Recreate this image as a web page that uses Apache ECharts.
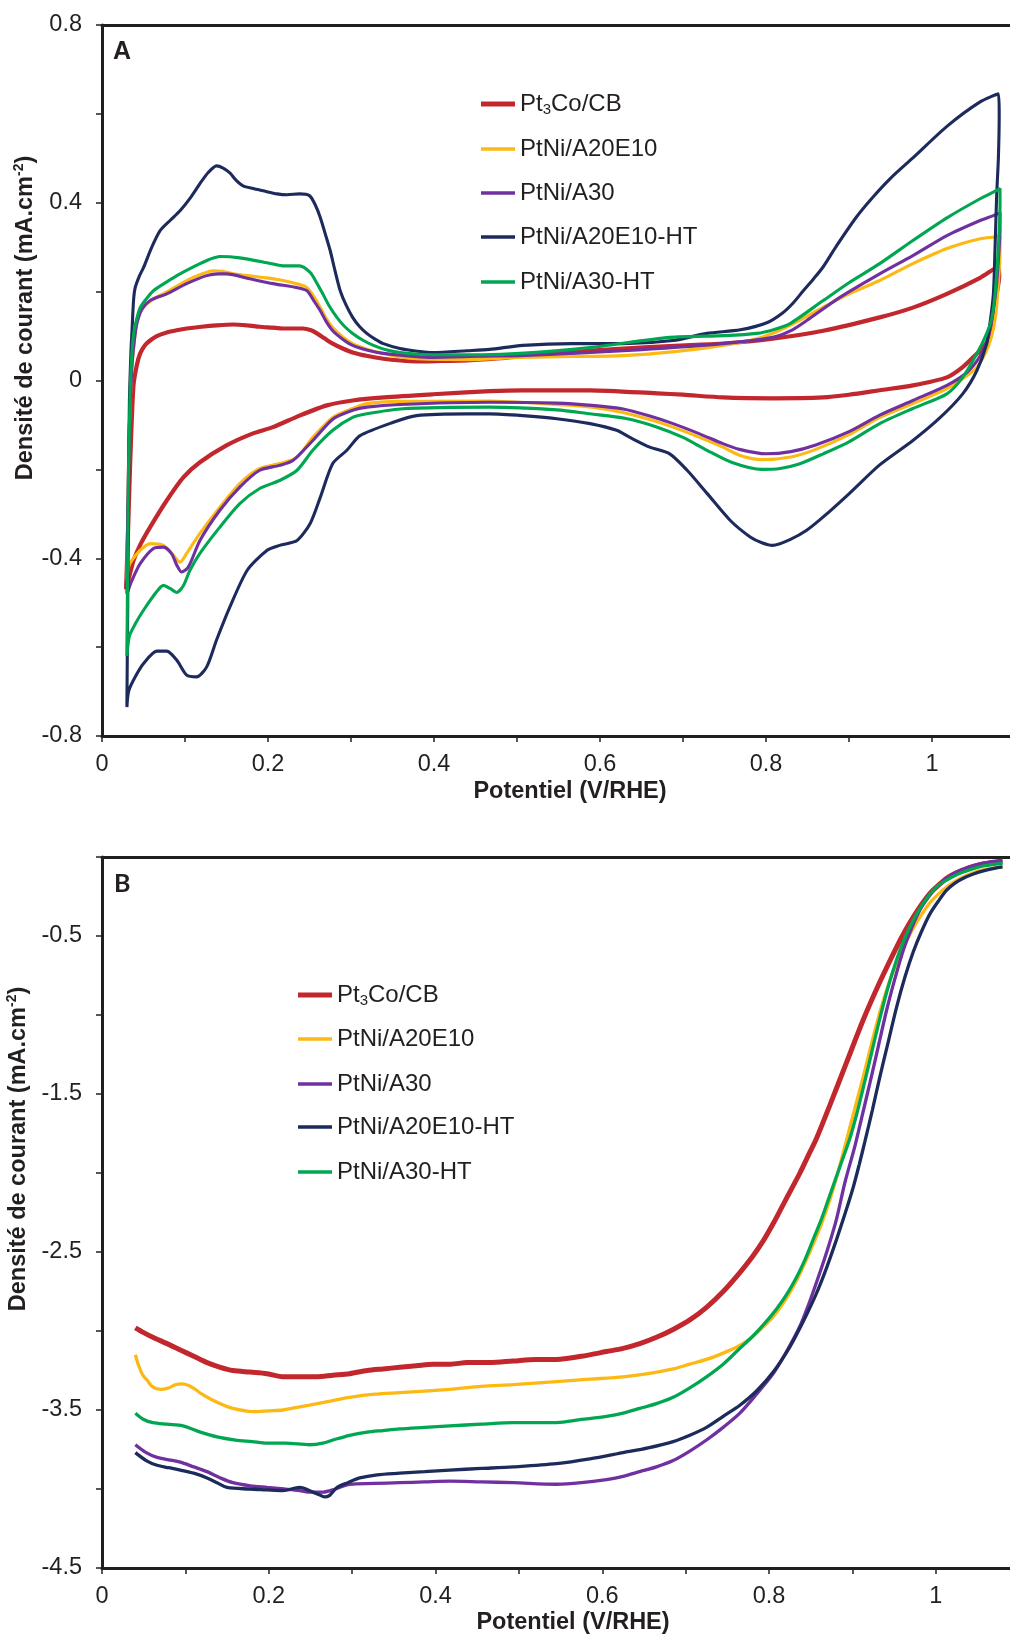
<!DOCTYPE html>
<html>
<head>
<meta charset="utf-8">
<script src="https://cdn.jsdelivr.net/npm/echarts@6/dist/echarts.min.js"></script>
<style>
  html, body { margin: 0; padding: 0; background: #ffffff; }
  #chart { width: 1010px; height: 1636px; }
</style>
</head>
<body>
<div id="chart"></div>
<script>
// ---------- DATA ----------
const seriesNames = ['Pt3Co/CB', 'PtNi/A20E10', 'PtNi/A30', 'PtNi/A20E10-HT', 'PtNi/A30-HT'];

// Panel A : cyclic voltammograms  [potential V/RHE, current density mA.cm-2]
const cvPt3Co = [[0.029,-0.47],[0.031,-0.36],[0.033,-0.24],[0.035,-0.13],[0.038,-0.01],[0.042,0.035],[0.046,0.061],[0.052,0.080],[0.058,0.090],[0.066,0.100],[0.078,0.108],[0.090,0.113],[0.102,0.117],[0.120,0.121],[0.138,0.124],[0.158,0.126],[0.175,0.124],[0.190,0.121],[0.205,0.119],[0.218,0.117],[0.242,0.117],[0.252,0.113],[0.259,0.106],[0.268,0.095],[0.278,0.083],[0.290,0.072],[0.302,0.063],[0.320,0.055],[0.339,0.049],[0.360,0.045],[0.379,0.043],[0.410,0.044],[0.440,0.045],[0.480,0.050],[0.504,0.055],[0.560,0.063],[0.628,0.072],[0.690,0.078],[0.748,0.083],[0.808,0.094],[0.869,0.112],[0.937,0.142],[0.977,0.164],[1.018,0.195],[1.058,0.231],[1.080,0.256],
  [1.081,0.235],[1.078,0.195],[1.074,0.140],[1.070,0.097],[1.062,0.075],[1.054,0.060],[1.037,0.030],[1.018,0.007],[0.977,-0.011],[0.937,-0.022],[0.900,-0.032],[0.869,-0.038],[0.808,-0.040],[0.748,-0.038],[0.700,-0.032],[0.669,-0.029],[0.588,-0.022],[0.507,-0.022],[0.467,-0.024],[0.399,-0.031],[0.340,-0.038],[0.302,-0.045],[0.271,-0.056],[0.238,-0.079],[0.206,-0.105],[0.182,-0.119],[0.150,-0.146],[0.118,-0.184],[0.098,-0.218],[0.078,-0.270],[0.058,-0.330],[0.046,-0.370],[0.038,-0.405],[0.033,-0.440],[0.029,-0.470]];
const cvA20E10 = [[0.030,-0.45],[0.031,-0.30],[0.033,-0.10],[0.036,0.03],[0.039,0.09],[0.042,0.135],[0.047,0.160],[0.054,0.172],[0.064,0.186],[0.074,0.195],[0.088,0.210],[0.102,0.225],[0.118,0.238],[0.134,0.247],[0.145,0.246],[0.158,0.240],[0.180,0.235],[0.199,0.231],[0.215,0.226],[0.230,0.220],[0.240,0.215],[0.247,0.209],[0.255,0.190],[0.263,0.164],[0.270,0.140],[0.278,0.119],[0.290,0.098],[0.302,0.083],[0.320,0.070],[0.339,0.061],[0.360,0.053],[0.379,0.049],[0.440,0.047],[0.504,0.052],[0.567,0.054],[0.628,0.056],[0.690,0.065],[0.748,0.079],[0.780,0.090],[0.808,0.106],[0.840,0.135],[0.869,0.165],[0.900,0.195],[0.937,0.225],[0.977,0.263],[1.018,0.297],[1.058,0.319],[1.076,0.323],[1.082,0.325],
  [1.082,0.29],[1.080,0.22],[1.077,0.15],[1.072,0.10],[1.064,0.06],[1.054,0.03],[1.040,0.008],[1.018,-0.018],[0.977,-0.052],[0.937,-0.083],[0.900,-0.122],[0.860,-0.155],[0.830,-0.172],[0.795,-0.178],[0.768,-0.168],[0.748,-0.150],[0.720,-0.128],[0.688,-0.105],[0.660,-0.088],[0.628,-0.072],[0.590,-0.060],[0.548,-0.054],[0.467,-0.046],[0.359,-0.047],[0.319,-0.052],[0.302,-0.063],[0.278,-0.083],[0.254,-0.128],[0.235,-0.173],[0.214,-0.187],[0.190,-0.198],[0.166,-0.232],[0.142,-0.285],[0.118,-0.344],[0.102,-0.389],[0.094,-0.409],[0.084,-0.389],[0.074,-0.371],[0.058,-0.367],[0.046,-0.382],[0.036,-0.405],[0.032,-0.420],[0.030,-0.450]];
const cvA30 = [[0.030,-0.48],[0.031,-0.30],[0.033,-0.10],[0.036,0.03],[0.039,0.09],[0.042,0.128],[0.048,0.160],[0.058,0.180],[0.078,0.195],[0.102,0.218],[0.126,0.236],[0.140,0.240],[0.150,0.240],[0.178,0.229],[0.206,0.218],[0.235,0.209],[0.247,0.202],[0.255,0.180],[0.263,0.157],[0.270,0.133],[0.278,0.112],[0.290,0.093],[0.302,0.079],[0.320,0.068],[0.339,0.061],[0.399,0.052],[0.467,0.055],[0.504,0.056],[0.628,0.067],[0.748,0.083],[0.808,0.097],[0.830,0.112],[0.849,0.135],[0.889,0.187],[0.937,0.240],[0.977,0.281],[1.018,0.326],[1.058,0.360],[1.074,0.371],[1.082,0.378],
  [1.082,0.34],[1.081,0.30],[1.078,0.22],[1.074,0.16],[1.068,0.10],[1.058,0.055],[1.042,0.018],[1.018,-0.011],[0.977,-0.045],[0.937,-0.078],[0.900,-0.115],[0.860,-0.145],[0.830,-0.160],[0.800,-0.165],[0.768,-0.155],[0.748,-0.142],[0.720,-0.120],[0.688,-0.097],[0.660,-0.080],[0.628,-0.064],[0.590,-0.056],[0.548,-0.051],[0.467,-0.049],[0.359,-0.054],[0.319,-0.060],[0.302,-0.067],[0.278,-0.087],[0.254,-0.135],[0.230,-0.180],[0.214,-0.191],[0.190,-0.202],[0.166,-0.240],[0.142,-0.292],[0.118,-0.360],[0.104,-0.420],[0.096,-0.431],[0.090,-0.415],[0.084,-0.390],[0.074,-0.375],[0.062,-0.378],[0.046,-0.412],[0.036,-0.450],[0.032,-0.470],[0.030,-0.480]];
const cvA20E10HT = [[0.030,-0.73],[0.031,-0.50],[0.032,-0.25],[0.033,-0.05],[0.035,0.07],[0.036,0.106],[0.038,0.180],[0.040,0.209],[0.045,0.235],[0.050,0.254],[0.060,0.300],[0.070,0.337],[0.082,0.360],[0.094,0.382],[0.106,0.410],[0.118,0.443],[0.128,0.468],[0.138,0.483],[0.146,0.478],[0.154,0.467],[0.162,0.450],[0.170,0.438],[0.182,0.432],[0.194,0.427],[0.211,0.420],[0.223,0.418],[0.238,0.420],[0.250,0.416],[0.257,0.395],[0.263,0.367],[0.269,0.330],[0.275,0.292],[0.281,0.245],[0.287,0.202],[0.294,0.170],[0.302,0.142],[0.310,0.122],[0.319,0.106],[0.329,0.093],[0.339,0.083],[0.359,0.072],[0.380,0.066],[0.399,0.063],[0.440,0.067],[0.467,0.070],[0.507,0.079],[0.567,0.083],[0.628,0.083],[0.688,0.090],[0.729,0.106],[0.769,0.114],[0.801,0.130],[0.820,0.152],[0.833,0.175],[0.845,0.202],[0.857,0.228],[0.869,0.256],[0.885,0.303],[0.909,0.368],[0.929,0.413],[0.950,0.455],[0.977,0.501],[1.018,0.572],[1.058,0.627],[1.080,0.645],
  [1.081,0.60],[1.080,0.50],[1.078,0.42],[1.076,0.30],[1.074,0.195],[1.070,0.130],[1.066,0.083],[1.054,0.022],[1.037,-0.030],[1.010,-0.083],[0.977,-0.135],[0.937,-0.190],[0.900,-0.255],[0.869,-0.307],[0.849,-0.337],[0.830,-0.357],[0.808,-0.371],[0.795,-0.365],[0.781,-0.352],[0.757,-0.315],[0.729,-0.254],[0.705,-0.202],[0.684,-0.165],[0.660,-0.150],[0.636,-0.128],[0.620,-0.112],[0.588,-0.097],[0.548,-0.086],[0.507,-0.079],[0.467,-0.075],[0.440,-0.075],[0.379,-0.079],[0.351,-0.094],[0.311,-0.124],[0.295,-0.157],[0.278,-0.187],[0.263,-0.263],[0.251,-0.321],[0.235,-0.360],[0.214,-0.371],[0.199,-0.382],[0.175,-0.427],[0.154,-0.510],[0.138,-0.584],[0.126,-0.645],[0.114,-0.667],[0.102,-0.663],[0.090,-0.629],[0.078,-0.609],[0.066,-0.609],[0.050,-0.637],[0.038,-0.674],[0.032,-0.700],[0.030,-0.735]];
const cvA30HT = [[0.030,-0.62],[0.031,-0.40],[0.032,-0.20],[0.034,-0.02],[0.036,0.06],[0.038,0.105],[0.042,0.140],[0.046,0.164],[0.054,0.185],[0.062,0.202],[0.078,0.222],[0.094,0.240],[0.118,0.263],[0.130,0.273],[0.142,0.279],[0.166,0.276],[0.199,0.265],[0.218,0.258],[0.238,0.258],[0.251,0.243],[0.258,0.222],[0.266,0.195],[0.274,0.167],[0.283,0.142],[0.292,0.122],[0.302,0.106],[0.315,0.090],[0.327,0.079],[0.342,0.069],[0.359,0.063],[0.399,0.058],[0.459,0.058],[0.504,0.061],[0.588,0.074],[0.684,0.097],[0.750,0.101],[0.789,0.106],[0.810,0.115],[0.829,0.128],[0.869,0.180],[0.900,0.220],[0.937,0.263],[0.977,0.315],[1.018,0.366],[1.058,0.409],[1.078,0.428],[1.082,0.432],
  [1.082,0.40],[1.080,0.30],[1.076,0.195],[1.072,0.140],[1.066,0.106],[1.054,0.060],[1.037,0.007],[1.018,-0.030],[0.977,-0.063],[0.937,-0.097],[0.900,-0.138],[0.869,-0.165],[0.840,-0.188],[0.817,-0.198],[0.795,-0.200],[0.760,-0.185],[0.729,-0.157],[0.700,-0.128],[0.669,-0.105],[0.630,-0.085],[0.588,-0.075],[0.548,-0.066],[0.467,-0.060],[0.359,-0.064],[0.319,-0.075],[0.302,-0.083],[0.278,-0.112],[0.254,-0.157],[0.235,-0.202],[0.214,-0.225],[0.190,-0.243],[0.166,-0.277],[0.142,-0.330],[0.118,-0.389],[0.106,-0.427],[0.098,-0.462],[0.090,-0.477],[0.082,-0.468],[0.074,-0.461],[0.066,-0.475],[0.050,-0.517],[0.040,-0.548],[0.033,-0.575],[0.030,-0.620]];

// Panel B : ORR polarisation curves  [potential V/RHE, current density mA.cm-2]
const orrPt3Co = [[0.040,-2.98],[0.050,-3.01],[0.061,-3.04],[0.078,-3.08],[0.094,-3.12],[0.110,-3.16],[0.126,-3.20],[0.142,-3.23],[0.157,-3.25],[0.178,-3.26],[0.198,-3.27],[0.218,-3.29],[0.237,-3.29],[0.257,-3.29],[0.277,-3.28],[0.297,-3.27],[0.318,-3.25],[0.337,-3.24],[0.357,-3.23],[0.377,-3.22],[0.397,-3.21],[0.418,-3.21],[0.438,-3.20],[0.465,-3.20],[0.493,-3.19],[0.520,-3.18],[0.545,-3.18],[0.575,-3.16],[0.605,-3.13],[0.625,-3.11],[0.645,-3.08],[0.665,-3.04],[0.685,-2.99],[0.705,-2.93],[0.725,-2.85],[0.745,-2.75],[0.765,-2.63],[0.780,-2.53],[0.793,-2.43],[0.805,-2.32],[0.817,-2.20],[0.827,-2.10],[0.837,-2.00],[0.847,-1.89],[0.857,-1.78],[0.873,-1.57],[0.893,-1.30],[0.913,-1.03],[0.933,-0.79],[0.953,-0.57],[0.963,-0.47],[0.973,-0.38],[0.983,-0.30],[0.993,-0.23],[1.003,-0.18],[1.013,-0.135],[1.023,-0.105],[1.033,-0.082],[1.045,-0.060],[1.057,-0.044],[1.070,-0.035],[1.080,-0.030]];
const orrA20E10 = [[0.040,-3.15],[0.044,-3.22],[0.049,-3.28],[0.054,-3.31],[0.060,-3.35],[0.070,-3.37],[0.080,-3.36],[0.088,-3.34],[0.096,-3.335],[0.104,-3.345],[0.112,-3.37],[0.120,-3.40],[0.130,-3.43],[0.142,-3.46],[0.157,-3.49],[0.181,-3.51],[0.200,-3.505],[0.217,-3.50],[0.237,-3.48],[0.258,-3.46],[0.277,-3.44],[0.297,-3.42],[0.327,-3.40],[0.357,-3.39],[0.387,-3.38],[0.417,-3.37],[0.455,-3.35],[0.493,-3.34],[0.545,-3.32],[0.585,-3.305],[0.625,-3.29],[0.655,-3.27],[0.685,-3.24],[0.705,-3.21],[0.725,-3.18],[0.745,-3.14],[0.762,-3.10],[0.777,-3.05],[0.790,-2.99],[0.805,-2.91],[0.820,-2.80],[0.833,-2.68],[0.843,-2.57],[0.853,-2.45],[0.863,-2.32],[0.873,-2.17],[0.883,-1.99],[0.893,-1.79],[0.903,-1.59],[0.913,-1.39],[0.923,-1.18],[0.933,-0.98],[0.943,-0.81],[0.953,-0.67],[0.963,-0.55],[0.973,-0.45],[0.983,-0.365],[0.993,-0.29],[1.003,-0.235],[1.013,-0.19],[1.023,-0.155],[1.033,-0.126],[1.045,-0.100],[1.057,-0.082],[1.070,-0.070],[1.080,-0.063]];
const orrA30 = [[0.040,-3.72],[0.053,-3.77],[0.066,-3.80],[0.080,-3.815],[0.094,-3.83],[0.110,-3.86],[0.126,-3.89],[0.142,-3.93],[0.157,-3.96],[0.178,-3.98],[0.198,-3.99],[0.218,-4.00],[0.237,-4.01],[0.250,-4.02],[0.265,-4.02],[0.280,-4.00],[0.297,-3.97],[0.327,-3.965],[0.357,-3.96],[0.387,-3.955],[0.417,-3.95],[0.455,-3.955],[0.493,-3.96],[0.545,-3.97],[0.575,-3.96],[0.605,-3.94],[0.625,-3.92],[0.645,-3.89],[0.665,-3.86],[0.685,-3.82],[0.705,-3.76],[0.725,-3.69],[0.745,-3.61],[0.765,-3.52],[0.785,-3.40],[0.805,-3.27],[0.821,-3.13],[0.837,-2.97],[0.849,-2.81],[0.861,-2.63],[0.871,-2.47],[0.881,-2.29],[0.891,-2.06],[0.903,-1.83],[0.912,-1.63],[0.921,-1.43],[0.931,-1.20],[0.941,-0.97],[0.951,-0.77],[0.961,-0.59],[0.971,-0.45],[0.981,-0.335],[0.991,-0.255],[1.001,-0.19],[1.013,-0.135],[1.025,-0.095],[1.039,-0.065],[1.053,-0.044],[1.067,-0.030],[1.080,-0.020]];
const orrA20E10HT = [[0.040,-3.77],[0.053,-3.82],[0.066,-3.85],[0.080,-3.865],[0.094,-3.88],[0.110,-3.90],[0.126,-3.93],[0.138,-3.96],[0.150,-3.99],[0.177,-4.00],[0.197,-4.005],[0.217,-4.01],[0.237,-3.99],[0.253,-4.02],[0.262,-4.04],[0.267,-4.05],[0.273,-4.04],[0.282,-3.99],[0.295,-3.96],[0.309,-3.93],[0.330,-3.91],[0.357,-3.90],[0.387,-3.89],[0.417,-3.88],[0.455,-3.87],[0.493,-3.86],[0.545,-3.84],[0.585,-3.81],[0.625,-3.77],[0.655,-3.74],[0.685,-3.70],[0.705,-3.66],[0.725,-3.61],[0.745,-3.54],[0.765,-3.47],[0.785,-3.38],[0.805,-3.26],[0.825,-3.10],[0.841,-2.94],[0.857,-2.76],[0.869,-2.60],[0.881,-2.42],[0.891,-2.26],[0.901,-2.09],[0.908,-1.95],[0.915,-1.80],[0.924,-1.60],[0.933,-1.39],[0.943,-1.17],[0.953,-0.95],[0.963,-0.76],[0.973,-0.60],[0.983,-0.47],[0.993,-0.36],[1.003,-0.28],[1.013,-0.21],[1.023,-0.165],[1.033,-0.135],[1.045,-0.108],[1.057,-0.088],[1.070,-0.072],[1.080,-0.063]];
const orrA30HT = [[0.040,-3.52],[0.050,-3.56],[0.061,-3.58],[0.078,-3.59],[0.097,-3.60],[0.118,-3.64],[0.138,-3.67],[0.160,-3.69],[0.180,-3.70],[0.198,-3.71],[0.220,-3.71],[0.249,-3.72],[0.265,-3.71],[0.277,-3.69],[0.297,-3.66],[0.318,-3.64],[0.337,-3.63],[0.357,-3.62],[0.387,-3.61],[0.417,-3.60],[0.455,-3.59],[0.493,-3.58],[0.545,-3.58],[0.575,-3.56],[0.605,-3.54],[0.625,-3.52],[0.645,-3.49],[0.665,-3.46],[0.685,-3.42],[0.705,-3.36],[0.725,-3.29],[0.745,-3.21],[0.763,-3.12],[0.781,-3.03],[0.795,-2.95],[0.809,-2.86],[0.821,-2.77],[0.833,-2.66],[0.843,-2.55],[0.853,-2.42],[0.863,-2.29],[0.873,-2.14],[0.885,-1.96],[0.897,-1.78],[0.905,-1.63],[0.913,-1.46],[0.923,-1.24],[0.933,-1.02],[0.943,-0.82],[0.953,-0.65],[0.963,-0.51],[0.973,-0.40],[0.983,-0.31],[0.993,-0.235],[1.003,-0.18],[1.013,-0.146],[1.023,-0.117],[1.033,-0.095],[1.045,-0.074],[1.057,-0.057],[1.070,-0.046],[1.080,-0.040]];

// Tick labels
const xTickLabels = [0, 0.2, 0.4, 0.6, 0.8, 1];
const yTickLabelsA = [-0.8, -0.4, 0, 0.4, 0.8];
const yTickLabelsB = [-4.5, -3.5, -2.5, -1.5, -0.5];

// ---------- STYLE ----------
const colors = ['#C1272D', '#FDB913', '#7030A0', '#1D2A5C', '#00A651'];
const FONT = '"Liberation Sans", Arial, sans-serif';
const INK = '#231F20';

const cvData = [cvPt3Co, cvA20E10, cvA30, cvA20E10HT, cvA30HT];
const orrData = [orrPt3Co, orrA20E10, orrA30, orrA20E10HT, orrA30HT];

function near(v, list) { return list.some(t => Math.abs(t - v) < 1e-6); }
function fmt(v) { return String(parseFloat(v.toFixed(2))); }

function xAxisFor(gi, max) {
  return {
    type: 'value', gridIndex: gi, min: 0, max: max, interval: 0.1,
    axisLine: { show: true, onZero: false, lineStyle: { color: INK, width: 3 } },
    axisTick: { show: true, length: 6, lineStyle: { color: INK, width: 1.5 } },
    splitLine: { show: false },
    axisLabel: {
      margin: 17, color: INK, fontSize: 23.5, fontFamily: FONT, showMaxLabel: false,
      formatter: v => near(v, xTickLabels) ? fmt(v) : ''
    }
  };
}
function topAxisFor(gi, max) {
  return {
    type: 'value', gridIndex: gi, min: 0, max: max, position: 'top',
    axisLine: { show: true, onZero: false, lineStyle: { color: INK, width: 3 } },
    axisTick: { show: false }, axisLabel: { show: false }, splitLine: { show: false }
  };
}
function yAxisFor(gi, min, max, interval, labels) {
  return {
    type: 'value', gridIndex: gi, min: min, max: max, interval: interval,
    axisLine: { show: true, onZero: false, lineStyle: { color: INK, width: 3 } },
    axisTick: { show: true, length: 6, lineStyle: { color: INK, width: 1.5 } },
    splitLine: { show: false },
    axisLabel: {
      margin: 20, color: INK, fontSize: 23.5, fontFamily: FONT,
      formatter: v => near(v, labels) ? fmt(v) : ''
    }
  };
}

const series = [];
seriesNames.forEach((name, i) => {
  series.push({
    name: name, type: 'line', xAxisIndex: 0, yAxisIndex: 0,
    data: cvData[i], showSymbol: false, symbol: 'none', smooth: 0.25,
    lineStyle: { color: colors[i], width: i === 0 ? 4.2 : 3.1 },
    itemStyle: { color: colors[i] }, z: 2 + i
  });
});
seriesNames.forEach((name, i) => {
  series.push({
    name: name, type: 'line', xAxisIndex: 2, yAxisIndex: 1,
    data: orrData[i], showSymbol: false, symbol: 'none', smooth: 0.3,
    lineStyle: { color: colors[i], width: i === 0 ? 5 : 3.3 },
    itemStyle: { color: colors[i] }, z: 2 + i
  });
});

const legendRowsA = [104, 149, 193, 237, 282];
const legendRowsB = [995, 1039, 1084, 1127, 1172];
const legendText = {
  fontSize: 24, fontFamily: FONT, color: INK, lineHeight: 26,
  rich: { sub: { fontSize: 15, fontFamily: FONT, color: INK, verticalAlign: 'bottom', lineHeight: 14 } }
};
const legendFmt = n => n === 'Pt3Co/CB' ? 'Pt{sub|3}Co/CB' : n;
const legends = [];
seriesNames.forEach((name, i) => {
  [[481, legendRowsA[i]], [298, legendRowsB[i]]].forEach(([lx, ly]) => {
    legends.push({
      left: lx, top: ly - 13, orient: 'vertical', padding: 0,
      data: [{ name: name, icon: 'rect' }],
      itemWidth: 34, itemHeight: i === 0 ? 5 : 3.5,
      itemStyle: { borderWidth: 0 },
      selectedMode: false,
      formatter: legendFmt, textStyle: legendText
    });
  });
});

const yTitle = 'Densité de courant (mA.cm{sup|-2})';
const titleRich = { sup: { fontSize: 14, fontWeight: 'bold', fontFamily: FONT, fill: INK, color: INK, verticalAlign: 'top', lineHeight: 14 } };

const option = {
  animation: false,
  backgroundColor: '#ffffff',
  grid: [
    { left: 102, right: 0, top: 25, bottom: 900, containLabel: false },
    { left: 102, right: 0, top: 857, bottom: 68, containLabel: false }
  ],
  xAxis: [xAxisFor(0, 1.094), topAxisFor(0, 1.094), xAxisFor(1, 1.089), topAxisFor(1, 1.089)],
  yAxis: [yAxisFor(0, -0.8, 0.8, 0.2, yTickLabelsA), yAxisFor(1, -4.5, 0, 0.5, yTickLabelsB)],
  legend: legends,
  series: series,
  graphic: [
    { type: 'text', x: 26, y: 318, rotation: Math.PI / 2,
      style: { text: yTitle, rich: titleRich, fill: INK, font: 'bold 23.5px ' + FONT, fontSize: 23.5, fontWeight: 'bold', fontFamily: FONT,
               align: 'center', verticalAlign: 'middle', textAlign: 'center', textVerticalAlign: 'middle', lineHeight: 28 } },
    { type: 'text', x: 19, y: 1149, rotation: Math.PI / 2,
      style: { text: yTitle, rich: titleRich, fill: INK, font: 'bold 23.5px ' + FONT, fontSize: 23.5, fontWeight: 'bold', fontFamily: FONT,
               align: 'center', verticalAlign: 'middle', textAlign: 'center', textVerticalAlign: 'middle', lineHeight: 28 } },
    { type: 'text', x: 570, y: 792,
      style: { text: 'Potentiel (V/RHE)', fill: INK, font: 'bold 23.5px ' + FONT, fontSize: 23.5, fontWeight: 'bold', fontFamily: FONT,
               align: 'center', verticalAlign: 'middle', textAlign: 'center', textVerticalAlign: 'middle' } },
    { type: 'text', x: 573, y: 1623,
      style: { text: 'Potentiel (V/RHE)', fill: INK, font: 'bold 23.5px ' + FONT, fontSize: 23.5, fontWeight: 'bold', fontFamily: FONT,
               align: 'center', verticalAlign: 'middle', textAlign: 'center', textVerticalAlign: 'middle' } },
    { type: 'text', x: 113, y: 52,
      style: { text: 'A', fill: INK, font: 'bold 25px ' + FONT, fontSize: 25, fontWeight: 'bold', fontFamily: FONT,
               align: 'left', verticalAlign: 'middle', textAlign: 'left', textVerticalAlign: 'middle' } },
    { type: 'text', x: 114, y: 884,
      style: { text: 'B', fill: INK, font: 'bold 25px Lato, ' + FONT, fontSize: 25, fontWeight: 'bold', fontFamily: 'Lato, ' + FONT,
               align: 'left', verticalAlign: 'middle', textAlign: 'left', textVerticalAlign: 'middle' } }
  ]
};

const chart = echarts.init(document.getElementById('chart'), null, { renderer: 'canvas' });
chart.setOption(option);
</script>
</body>
</html>
